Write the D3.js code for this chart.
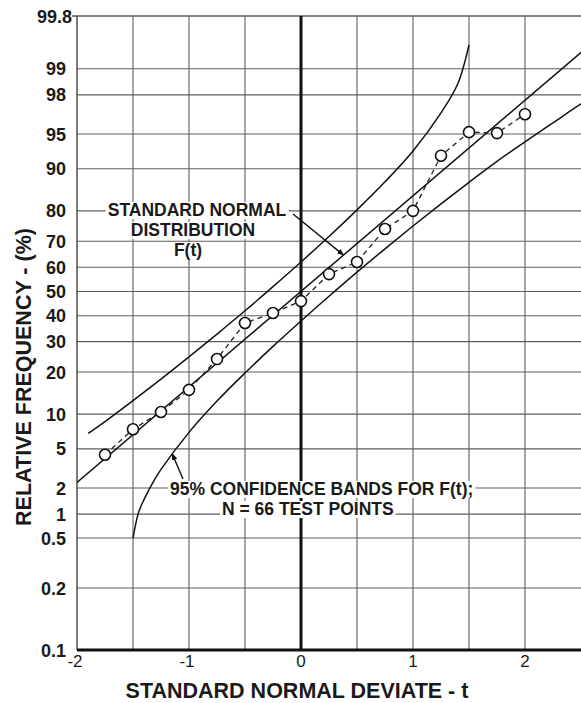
<!DOCTYPE html>
<html>
<head>
<meta charset="utf-8">
<script src="https://cdn.jsdelivr.net/npm/d3@7/dist/d3.min.js"></script>
<style>
    html, body { margin: 0; padding: 0; background: #fff; }
    svg { display: block; font-family: "Liberation Sans", Arial, Helvetica, sans-serif; }
</style>
</head>
<body>
<div id="chart"></div>
<script>
// probability ticks (percent) and deviate ticks
const freqTicks = [99.8, 99, 98, 95, 90, 80, 70, 60, 50, 40, 30, 20, 10, 5, 2, 1, 0.5, 0.2, 0.1];
const devTicks = [-2, -1, 0, 1, 2];
const devGrid = [-1.5, -1, -0.5, 0.5, 1, 1.5, 2];

// test points
const tPoints = [-1.75, -1.5, -1.25, -1, -0.75, -0.5, -0.25, 0, 0.25, 0.5, 0.75, 1, 1.25, 1.5, 1.75, 2];
const freqPoints = [4.4, 7.5, 10.4, 15.2, 24.0, 37.1, 41.1, 46.0, 57.2, 62.1, 74.3, 80.0, 92.2, 95.2, 95.1, 96.8];

// standard normal distribution F(t)
const tNormal = [-2, 2.7];
const freqNormal = [2.3, 99.65];

// 95% confidence bands
const tUpper = [-1.9, -1.75, -1.5, -1.25, -1, -0.75, -0.5, -0.25, 0, 0.25, 0.5, 0.75, 1, 1.25, 1.4, 1.5];
const freqUpper = [6.9, 8.7, 12.7, 18.0, 24.7, 32.8, 42.0, 52.0, 62.1, 71.7, 80.3, 87.4, 92.9, 96.9, 98.5, 99.5];
const tLower = [-1.5, -1.45, -1.4, -1.3, -1.25, -1, -0.75, -0.5, -0.25, 0, 0.25, 0.5, 0.75, 1, 1.25, 1.5, 1.75, 2, 2.25, 2.5, 2.7];
const freqLower = [0.5, 1.05, 1.5, 2.55, 3.15, 7.05, 12.6, 19.7, 28.3, 37.9, 48.0, 58.0, 67.2, 75.3, 82.0, 87.3, 91.3, 94.1, 96.1, 97.5, 98.2];

const width = 581;
const height = 703;
const plot = { left: 77, right: 581, top: 16, bottom: 650 };

//inverse of the normal cdf (Acklam), used for the probability axis
function probit(p) {
    const a = [-39.69683028665376, 220.9460984245205, -275.9285104469687, 138.3577518672690, -30.66479806614716, 2.506628277459239];
    const b = [-54.47609879822406, 161.5858368580409, -155.6989798598866, 66.80131188771972, -13.28068155288572];
    const c = [-0.007784894002430293, -0.3223964580411365, -2.400758277161838, -2.549732539343734, 4.374664141464968, 2.938163982698783];
    const d = [0.007784695709041462, 0.3224671290700398, 2.445134137142996, 3.754408661907416];
    const plow = 0.02425;
    if (p < plow) {
        let q = Math.sqrt(-2 * Math.log(p));
        return (((((c[0] * q + c[1]) * q + c[2]) * q + c[3]) * q + c[4]) * q + c[5]) / ((((d[0] * q + d[1]) * q + d[2]) * q + d[3]) * q + 1);
    }
    if (p <= 1 - plow) {
        let q = p - 0.5;
        let r = q * q;
        return (((((a[0] * r + a[1]) * r + a[2]) * r + a[3]) * r + a[4]) * r + a[5]) * q / (((((b[0] * r + b[1]) * r + b[2]) * r + b[3]) * r + b[4]) * r + 1);
    }
    let q = Math.sqrt(-2 * Math.log(1 - p));
    return -(((((c[0] * q + c[1]) * q + c[2]) * q + c[3]) * q + c[4]) * q + c[5]) / ((((d[0] * q + d[1]) * q + d[2]) * q + d[3]) * q + 1);
}

let x = d3.scaleLinear().domain([-2, 2]).range([plot.left, 525]);

//the printed paper is stretched below 0.5 %, so the probit scale is piecewise
let zScale = d3
    .scaleLinear()
    .domain([probit(0.001), probit(0.002), probit(0.005), probit(0.998)])
    .range([plot.bottom, 588, 538, plot.top]);
let y = (pct) => zScale(probit(pct / 100));

const svg = d3
    .select("#chart")
    .append("svg")
    .attr("width", width)
    .attr("height", height)
    .attr("viewBox", [0, 0, width, height]);

svg.append("defs")
    .append("clipPath")
    .attr("id", "plot-clip")
    .append("rect")
    .attr("x", plot.left)
    .attr("y", plot.top - 2)
    .attr("width", plot.right - plot.left)
    .attr("height", plot.bottom - plot.top + 4);

let marker = svg.select("defs")
    .append("marker")
    .attr("id", "arrow")
    .attr("viewBox", "0 0 10 10")
    .attr("refX", 9)
    .attr("refY", 5)
    .attr("markerWidth", 7)
    .attr("markerHeight", 7)
    .attr("markerUnits", "userSpaceOnUse")
    .attr("orient", "auto");
marker.append("path").attr("d", "M0,1 L10,5 L0,9 z").attr("fill", "#111");

//============================ GRID ============================//
let grid = svg.append("g").attr("class", "grid");

grid.selectAll(".h-grid")
    .data(freqTicks.filter((d) => d !== 0.1))
    .join("line")
    .attr("class", "h-grid")
    .attr("x1", plot.left)
    .attr("x2", plot.right)
    .attr("y1", (d) => y(d))
    .attr("y2", (d) => y(d))
    .attr("stroke", "#5e5e5e")
    .attr("stroke-width", (d) => (d === 99.8 ? 1.4 : 1.1));

grid.selectAll(".v-grid")
    .data(devGrid)
    .join("line")
    .attr("class", "v-grid")
    .attr("x1", (d) => x(d))
    .attr("x2", (d) => x(d))
    .attr("y1", plot.top)
    .attr("y2", plot.bottom)
    .attr("stroke", "#5e5e5e")
    .attr("stroke-width", 1.1);

//left border
grid.append("line")
    .attr("x1", plot.left)
    .attr("x2", plot.left)
    .attr("y1", plot.top)
    .attr("y2", plot.bottom)
    .attr("stroke", "#444")
    .attr("stroke-width", 1.4);

//heavy t = 0 line and bottom axis
grid.append("line")
    .attr("x1", x(0))
    .attr("x2", x(0))
    .attr("y1", plot.top)
    .attr("y2", plot.bottom)
    .attr("stroke", "#111")
    .attr("stroke-width", 3);

grid.append("line")
    .attr("x1", plot.left)
    .attr("x2", plot.right)
    .attr("y1", y(0.1))
    .attr("y2", y(0.1))
    .attr("stroke", "#111")
    .attr("stroke-width", 3);

//tick stub next to 99.8
grid.append("line")
    .attr("x1", plot.left - 5)
    .attr("x2", plot.left)
    .attr("y1", y(99.8))
    .attr("y2", y(99.8))
    .attr("stroke", "#444")
    .attr("stroke-width", 1.4);

//============================ TICK LABELS ============================//
svg.append("g")
    .selectAll("text")
    .data(freqTicks)
    .join("text")
    .attr("x", (d) => (d === 99.8 ? plot.left - 5 : plot.left - 11))
    .attr("y", (d) => y(d) + 6.5)
    .attr("text-anchor", "end")
    .attr("font-size", 18)
    .attr("font-weight", "bold")
    .attr("fill", "#1a1a1a")
    .text((d) => d);

svg.append("g")
    .selectAll("text")
    .data(devTicks)
    .join("text")
    .attr("x", (d) => x(d) + (d < 0 ? -2 : 0))
    .attr("y", 667)
    .attr("text-anchor", "middle")
    .attr("font-size", 17)
    .attr("fill", "#1a1a1a")
    .text((d) => d);

//axis titles
svg.append("text")
    .attr("x", 297)
    .attr("y", 698)
    .attr("text-anchor", "middle")
    .attr("font-size", 21.5)
    .attr("font-weight", "bold")
    .attr("fill", "#1a1a1a")
    .text("STANDARD NORMAL DEVIATE - t");

svg.append("text")
    .attr("transform", "translate(31, 377) rotate(-90)")
    .attr("text-anchor", "middle")
    .attr("font-size", 21.5)
    .attr("font-weight", "bold")
    .attr("fill", "#1a1a1a")
    .text("RELATIVE FREQUENCY - (%)");

//============================ CURVES ============================//
let curves = svg.append("g").attr("clip-path", "url(#plot-clip)");

let line = d3
    .line()
    .x((d) => x(d[0]))
    .y((d) => y(d[1]))
    .curve(d3.curveCatmullRom.alpha(0.5));

for (let band of [d3.zip(tNormal, freqNormal), d3.zip(tUpper, freqUpper), d3.zip(tLower, freqLower)]) {
    curves.append("path")
        .datum(band)
        .attr("d", line)
        .attr("fill", "none")
        .attr("stroke", "#111")
        .attr("stroke-width", 1.5);
}

//test points joined by a dashed line
let pts = d3.zip(tPoints, freqPoints);

curves.append("path")
    .datum(pts)
    .attr("d", d3.line().x((d) => x(d[0])).y((d) => y(d[1])))
    .attr("fill", "none")
    .attr("stroke", "#222")
    .attr("stroke-width", 1.3)
    .attr("stroke-dasharray", "5,4");

curves.selectAll(".pt")
    .data(pts)
    .join("circle")
    .attr("class", "pt")
    .attr("cx", (d) => x(d[0]))
    .attr("cy", (d) => y(d[1]))
    .attr("r", 5.5)
    .attr("fill", "#fff")
    .attr("stroke", "#111")
    .attr("stroke-width", 1.6);

//============================ ANNOTATIONS ============================//
function _label(lines, anchor) {
    let g = svg.append("g");
    for (let l of lines) {
        g.append("text")
            .attr("x", l.x)
            .attr("y", l.y)
            .attr("text-anchor", anchor)
            .attr("font-size", 17.5)
            .attr("font-weight", "bold")
            .attr("fill", "#1a1a1a")
            .text(l.text);
    }
    //white box behind the text so the grid lines break
    g.selectAll("text").each(function () {
        let bb = this.getBBox();
        g.insert("rect", "text")
            .attr("x", bb.x - 2)
            .attr("y", bb.y + 2)
            .attr("width", bb.width + 4)
            .attr("height", bb.height - 3)
            .attr("fill", "#fff");
    });
    return g;
}

//leader to F(t)
svg.append("line")
    .attr("x1", 293)
    .attr("y1", 214)
    .attr("x2", x(0.38))
    .attr("y2", y(64.8))
    .attr("stroke", "#111")
    .attr("stroke-width", 1.4)
    .attr("marker-end", "url(#arrow)");

_label(
    [
        { text: "STANDARD NORMAL", x: 197, y: 216 },
        { text: "DISTRIBUTION", x: 193, y: 236 },
        { text: "F(t)", x: 188, y: 256 },
    ],
    "middle"
);

//leader to the lower confidence band
svg.append("line")
    .attr("x1", 183)
    .attr("y1", 479)
    .attr("x2", x(-1.15))
    .attr("y2", y(4.5))
    .attr("stroke", "#111")
    .attr("stroke-width", 1.4)
    .attr("marker-end", "url(#arrow)");

_label(
    [
        { text: "95% CONFIDENCE BANDS FOR F(t);", x: 170, y: 495 },
        { text: "N = 66 TEST POINTS", x: 222, y: 515 },
    ],
    "start"
);
</script>
</body>
</html>
